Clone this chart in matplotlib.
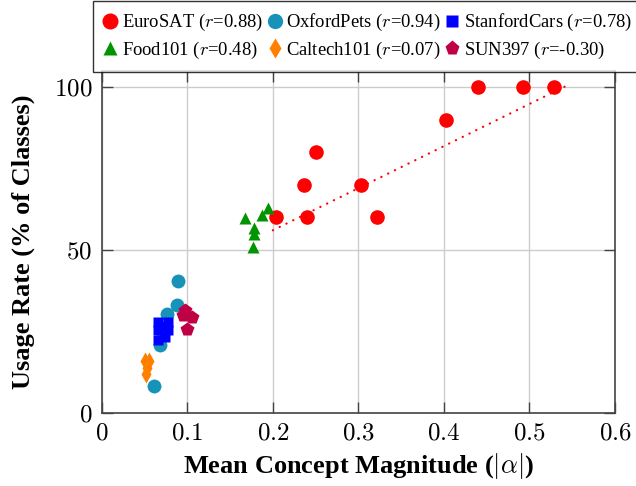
import numpy as np
import matplotlib
matplotlib.use('Agg')
import matplotlib.pyplot as plt
from matplotlib.ticker import FuncFormatter

plt.rcParams['mathtext.fontset'] = 'cm'
plt.rcParams['font.family'] = ['Liberation Serif', 'DejaVu Serif']

# data (x = mean |alpha|, y = usage rate %)
eurosat_x = [0.204, 0.237, 0.250, 0.240, 0.303, 0.322, 0.402, 0.440, 0.492, 0.529]
eurosat_y = [60, 70, 80, 60, 70, 60, 90, 100, 100, 100]
pets_x = [0.0895, 0.0877, 0.076, 0.072, 0.068, 0.0613]
pets_y = [40.5, 33.0, 30.4, 24.5, 20.7, 8.2]
cars_x = [0.0655, 0.0778, 0.0655, 0.0778, 0.0655, 0.0740, 0.0700]
cars_y = [27.9, 27.9, 25.3, 25.3, 22.2, 23.3, 26.5]
food_x = [0.168, 0.178, 0.178, 0.177, 0.187, 0.194]
food_y = [59.8, 54.9, 56.8, 50.8, 60.6, 62.8]
caltech_x = [0.050, 0.055, 0.053, 0.052]
caltech_y = [16.0, 15.8, 13.6, 11.8]
sun_x = [0.0974, 0.105, 0.0994, 0.0954]
sun_y = [31.4, 29.4, 25.8, 29.9]
trend_x = [0.200, 0.545]
trend_y = [56.0, 100.6]

labels = ['EuroSAT ($r$=0.88)', 'OxfordPets ($r$=0.94)', 'StanfordCars ($r$=0.78)',
          'Food101 ($r$=0.48)', 'Caltech101 ($r$=0.07)', 'SUN397 ($r$=-0.30)']

fig = plt.figure(figsize=(6.36, 4.86), dpi=100)
ax = fig.add_axes([0.160, 0.1508, 0.807, 0.7037])

h_euro, = ax.plot(eurosat_x, eurosat_y, 'o', color='#ff0000', ms=10.5, mec='none', zorder=3)
h_pets, = ax.plot(pets_x, pets_y, 'o', color='#1792b8', ms=10, mec='none', zorder=3)
h_cars, = ax.plot(cars_x, cars_y, 's', color='#0000ff', ms=7.5, mec='none', zorder=4)
h_food, = ax.plot(food_x, food_y, '^', color='#009400', ms=9, mec='none', zorder=3)
h_cal, = ax.plot(caltech_x, caltech_y, 'd', color='#ff8000', ms=9, mec='none', zorder=3)
h_sun, = ax.plot(sun_x, sun_y, 'p', color='#bf0045', ms=10, mec='none', zorder=3)
ax.plot(trend_x, trend_y, color='#ff0000', lw=1.6, linestyle=(0, (0.1, 3.3)),
        dash_capstyle='round', zorder=2)

ax.set_xlim(0, 0.6)
ax.set_ylim(0, 105)
ax.set_xticks([0, 0.1, 0.2, 0.3, 0.4, 0.5, 0.6])
ax.set_yticks([0, 50, 100])
ax.xaxis.set_major_formatter(FuncFormatter(lambda v, p: '$%g$' % round(v, 2)))
ax.yaxis.set_major_formatter(FuncFormatter(lambda v, p: '$%d$' % v))
ax.tick_params(direction='in', length=8, width=1, colors='#444444', labelcolor='black',
               labelsize=18, top=True, right=True, pad=7)
ax.grid(True, color='#cccccc', lw=1)
ax.set_axisbelow(True)
for s in ax.spines.values():
    s.set_color('#444444')
    s.set_linewidth(1.2)

ax.set_xlabel(r'Mean Concept Magnitude ($|\alpha|$)', fontsize=19, fontweight='bold', labelpad=5)
ax.set_ylabel('Usage Rate (% of Classes)', fontsize=19, fontweight='bold', labelpad=13)

handles = [h_euro, h_food, h_pets, h_cal, h_cars, h_sun]
leg_labels = [labels[0], labels[3], labels[1], labels[4], labels[2], labels[5]]
leg = fig.legend(handles, leg_labels, ncol=3, loc='upper left', bbox_to_anchor=(93 / 636, 0.998),
                 fontsize=13.4, frameon=True, fancybox=False, edgecolor='black',
                 handlelength=0.65, handletextpad=0.3, columnspacing=0.3, markerscale=1.1,
                 borderpad=0.6, labelspacing=0.35, borderaxespad=0)
leg.get_frame().set_linewidth(1)

plt.savefig('out.png', dpi=100)
